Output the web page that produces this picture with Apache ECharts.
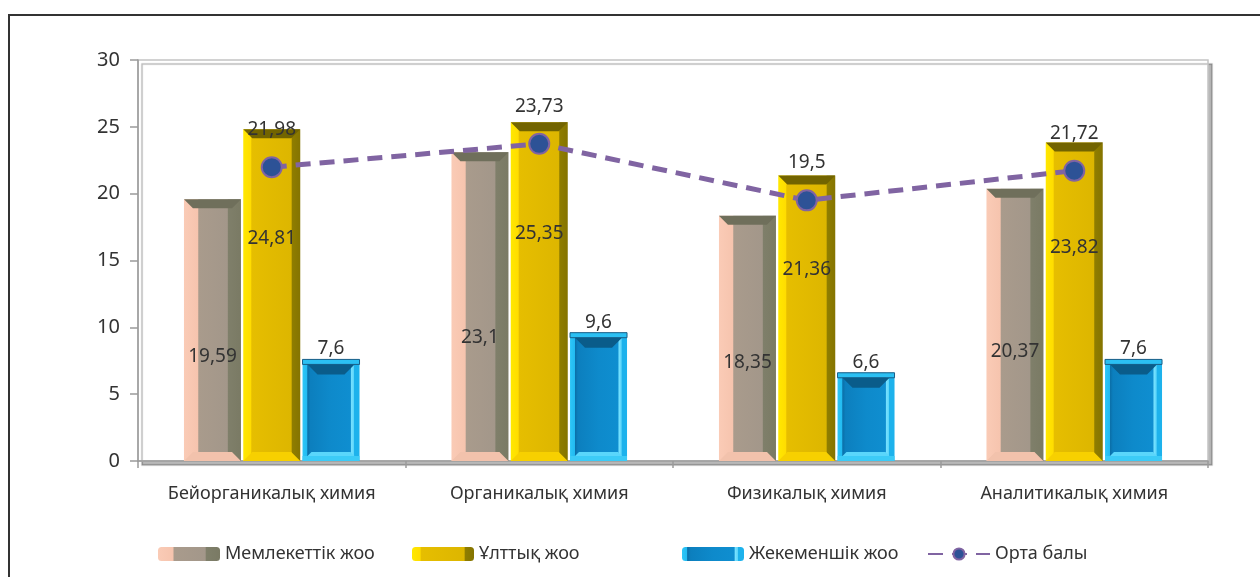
<!DOCTYPE html>
<html>
<head>
<meta charset="utf-8">
<script src="https://cdn.jsdelivr.net/npm/echarts@6/dist/echarts.min.js"></script>
<style>
html,body{margin:0;padding:0;background:#fff;}
#chart{width:1260px;height:577px;}
</style>
</head>
<body>
<div id="chart"></div>
<script>
// ---- data ----
const categories = ['Бейорганикалық химия', 'Органикалық химия', 'Физикалық химия', 'Аналитикалық химия'];
const seriesNames = ['Мемлекеттік жоо', 'Ұлттық жоо', 'Жекеменшік жоо', 'Орта балы'];
const stateUni = [19.59, 23.1, 18.35, 20.37];
const nationalUni = [24.81, 25.35, 21.36, 23.82];
const privateUni = [7.6, 9.6, 6.6, 7.6];
const avgScore = [21.98, 23.73, 19.5, 21.72];
const yMin = 0, yMax = 30, yStep = 5;

// ---- styling ----
const FONT = 'Noto Sans';
const TXT = '#333333';
const BW = 57, GAP_PCT = 4;
const GAPPX = BW * GAP_PCT / 100;
const fmt = v => String(v).replace('.', ',');

function hGrad(stops) {
  return new echarts.graphic.LinearGradient(0, 0, 1, 0, stops.map(s => ({offset: s[0], color: s[1]})));
}
const beigeFill = hGrad([[0,'#FACBB6'],[0.24,'#F6C4AE'],[0.26,'#A99B8C'],[0.76,'#A3978A'],[0.78,'#7F7F6A'],[1,'#7A7A64']]);
const yellowFill = hGrad([[0,'#FFE800'],[0.13,'#FFDD00'],[0.15,'#E6BE00'],[0.84,'#DDB600'],[0.86,'#8F7D00'],[1,'#857400']]);
const blueFill = hGrad([[0,'#2EC6F7'],[0.08,'#22BBF2'],[0.09,'#0B6FA8'],[0.14,'#0C7FBE'],[0.5,'#0E8ACB'],[0.84,'#0F8ED0'],[0.86,'#78E2FF'],[0.9,'#5AD4FA'],[0.91,'#1DB2EC'],[1,'#1DB2EC']]);

const bevelColors = [
  {top: '#6F6F5B', bottom: '#F2C2AC'},
  {top: '#726400', bottom: '#F7D000'},
  {top: '#0A5C8A', bottom: '#29BDF2'}
];
const barValues = [stateUni, nationalUni, privateUni];
const bevelData = [];
barValues.forEach((arr, k) => arr.forEach((v, i) => bevelData.push([i, v, k])));

function renderBevel(params, api) {
  const i = api.value(0), v = api.value(1), k = api.value(2);
  const top = api.coord([i, v]);
  const base = api.coord([i, 0]);
  const cx = top[0] + (k - 1) * (BW + GAPPX);
  const x0 = cx - BW / 2, x1 = cx + BW / 2;
  const y0 = top[1], y1 = base[1];
  const c = bevelColors[k];
  const children = [];
  if (k < 2) {
    const d = 9;
    children.push({type: 'polygon', z2: 10, shape: {points: [[x0, y0], [x1, y0], [x1 - d, y0 + d], [x0 + d, y0 + d]]}, style: {fill: c.top, stroke: null}});
    children.push({type: 'polygon', z2: 10, shape: {points: [[x0, y1], [x1, y1], [x1 - d, y1 - d], [x0 + d, y1 - d]]}, style: {fill: c.bottom, stroke: null}});
  } else {
    const f = 5, d = 10;
    children.push({type: 'rect', z2: 10, shape: {x: x0, y: y0, width: BW, height: f}, style: {fill: '#2BC0F3', stroke: '#1B5F88', lineWidth: 1}});
    children.push({type: 'polygon', z2: 11, shape: {points: [[x0 + f, y0 + f], [x1 - f, y0 + f], [x1 - f - d, y0 + f + d], [x0 + f + d, y0 + f + d]]}, style: {fill: c.top, stroke: null}});
    children.push({type: 'rect', z2: 10, shape: {x: x0, y: y1 - f, width: BW, height: f}, style: {fill: '#3CCBF7', stroke: null}});
    children.push({type: 'polygon', z2: 11, shape: {points: [[x0 + f, y1 - f], [x1 - f, y1 - f], [x1 - f - 4, y1 - f - 4], [x0 + f + 4, y1 - f - 4]]}, style: {fill: '#5AD6FB', stroke: null}});
  }
  return {type: 'group', children: children};
}

const labelText = {fontFamily: FONT, fontSize: 19, color: TXT};

const chart = echarts.init(document.getElementById('chart'), null, {renderer: 'canvas'});
chart.setOption({
  animation: false,
  backgroundColor: '#ffffff',
  textStyle: {fontFamily: FONT},
  grid: {
    left: 138, right: 52, top: 60, bottom: 116,
    show: true, backgroundColor: '#ffffff', borderColor: '#C4C4C4', borderWidth: 1.5,
    shadowColor: 'rgba(0,0,0,0.28)', shadowOffsetX: 4, shadowOffsetY: 4, shadowBlur: 1
  },
  graphic: [
    {type: 'line', shape: {x1: 9, y1: 15, x2: 1260, y2: 15}, style: {stroke: '#333', lineWidth: 2}, silent: true},
    {type: 'line', shape: {x1: 9, y1: 14, x2: 9, y2: 577}, style: {stroke: '#333', lineWidth: 2}, silent: true}
  ],
  legend: [
    {data: [seriesNames[0]], left: 153},
    {data: [seriesNames[1]], left: 407},
    {data: [seriesNames[2]], left: 677},
    {data: [seriesNames[3]], left: 922}
  ].map(l => Object.assign(l, {
    top: 540, itemWidth: 62, itemHeight: 14, itemGap: 8,
    textStyle: {fontFamily: FONT, fontSize: 18, color: TXT}
  })),
  xAxis: {
    type: 'category', data: categories,
    axisLine: {lineStyle: {color: '#9A9A9A', width: 1.5}},
    axisTick: {show: true, length: 7, lineStyle: {color: '#9A9A9A', width: 1.5}},
    axisLabel: {fontFamily: FONT, fontSize: 18, color: TXT, margin: 24, interval: 0}
  },
  yAxis: {
    type: 'value', min: yMin, max: yMax, interval: yStep,
    splitLine: {show: false},
    axisLine: {show: true, lineStyle: {color: '#9A9A9A', width: 1.5}},
    axisTick: {show: true, length: 8, lineStyle: {color: '#9A9A9A', width: 1.5}},
    axisLabel: {fontFamily: FONT, fontSize: 20, color: TXT, margin: 18}
  },
  series: [
    {
      name: seriesNames[0], type: 'bar', data: stateUni, barWidth: BW, barGap: GAP_PCT + '%',
      itemStyle: {color: beigeFill},
      label: Object.assign({show: true, position: ['50%', '60%'], align: 'center', verticalAlign: 'middle', formatter: p => fmt(p.value)}, labelText)
    },
    {
      name: seriesNames[1], type: 'bar', data: nationalUni, barWidth: BW, barGap: GAP_PCT + '%',
      itemStyle: {color: yellowFill},
      label: Object.assign({show: true, position: ['50%', '33%'], align: 'center', verticalAlign: 'middle', formatter: p => fmt(p.value)}, labelText)
    },
    {
      name: seriesNames[2], type: 'bar', data: privateUni, barWidth: BW, barGap: GAP_PCT + '%',
      itemStyle: {color: blueFill},
      label: Object.assign({show: true, position: 'top', distance: 1, formatter: p => fmt(p.value)}, labelText)
    },
    {
      type: 'custom', renderItem: renderBevel, data: bevelData, silent: true, z: 3,
      dimensions: ['cat', 'val', 'ser'],
      encode: {x: 'cat', y: 'val'}
    },
    {
      name: seriesNames[3], type: 'line', data: avgScore, z: 5,
      symbol: 'circle', symbolSize: 20,
      lineStyle: {color: '#8064A2', width: 5, type: [15, 9]},
      itemStyle: {color: '#2D5296', borderColor: '#8064A2', borderWidth: 2},
      label: Object.assign({show: true, position: 'top', distance: 17, formatter: p => fmt(p.value)}, labelText)
    }
  ]
});
</script>
</body>
</html>
